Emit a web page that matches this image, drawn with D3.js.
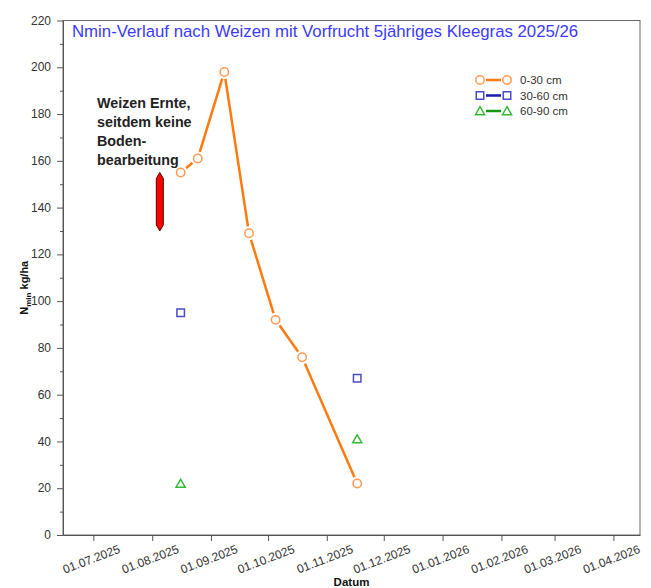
<!DOCTYPE html>
<html>
<head>
    <meta charset="utf-8">
    <title>Nmin-Verlauf</title>
    <style>
        body { margin: 0; background: #fff; }
        svg { display: block; font-family: "Liberation Sans", Arial, sans-serif; }
        .axis text { fill: #333; font-size: 12px; }
        .axis path, .axis line { stroke: #555; }
    </style>
</head>
<body>
    <div id="chart"></div>

    <script src="https://d3js.org/d3.v7.min.js"></script>
    <script>
        // Messwerte (Nmin kg/ha)
        const datesTop = ["2025-08-16", "2025-08-25", "2025-09-08", "2025-09-21", "2025-10-05", "2025-10-19", "2025-11-17"];
        const n0_30 = [155, 161, 198, 129, 92, 76, 22];
        const datesDeep = ["2025-08-16", "2025-11-17"];
        const n30_60 = [95, 67];
        const n60_90 = [22, 41];

        const tickDates = ["2025-07-01", "2025-08-01", "2025-09-01", "2025-10-01", "2025-11-01",
                           "2025-12-01", "2026-01-01", "2026-02-01", "2026-03-01", "2026-04-01"];
        const yTicks = [0, 20, 40, 60, 80, 100, 120, 140, 160, 180, 200, 220];
        const legendLabels = ["0-30 cm", "30-60 cm", "60-90 cm"];
        const noteLines = ["Weizen Ernte,", "seitdem keine", "Boden-", "bearbeitung"];
        const harvest = { date: "2025-08-05", from: 155, to: 130 };

        const parse = d3.timeParse("%Y-%m-%d");
        const fmt = d3.timeFormat("%d.%m.%Y");

        const width = 651, height = 588;
        const margin = { top: 20.5, right: 11, bottom: 53, left: 63 };

        const svg = d3.select("#chart").append("svg")
            .attr("width", width)
            .attr("height", height);

        const x = d3.scaleTime()
            .domain([parse("2025-06-15"), parse("2026-04-15")])
            .range([margin.left, width - margin.right]);
        const y = d3.scaleLinear()
            .domain([0, 220])
            .range([height - margin.bottom, margin.top]);

        // Rahmen
        svg.append("rect")
            .attr("x", margin.left).attr("y", margin.top)
            .attr("width", width - margin.right - margin.left)
            .attr("height", height - margin.bottom - margin.top)
            .attr("fill", "none").attr("stroke", "#666");

        // y-Achse, Haupt- und Nebenstriche
        svg.append("g").attr("class", "axis")
            .attr("transform", `translate(${margin.left},0)`)
            .call(d3.axisLeft(y).tickValues(d3.range(10, 220, 20)).tickSize(3).tickFormat("").tickSizeOuter(0));
        svg.append("g").attr("class", "axis")
            .attr("transform", `translate(${margin.left},0)`)
            .call(d3.axisLeft(y).tickValues(yTicks).tickSize(6).tickPadding(6).tickSizeOuter(0))
            .selectAll("text").attr("dy", "0.3em");

        // x-Achse
        const xa = svg.append("g").attr("class", "axis")
            .attr("transform", `translate(0,${height - margin.bottom})`)
            .call(d3.axisBottom(x).tickValues(tickDates.map(parse)).tickFormat(fmt).tickSize(6).tickSizeOuter(0));
        xa.selectAll("text")
            .attr("text-anchor", "middle")
            .attr("dy", 0)
            .attr("transform", "translate(-1,28) rotate(-21)")
            .attr("y", 0);

        // Achsentitel
        const yl = svg.append("text")
            .attr("transform", `translate(28,${(margin.top + height - margin.bottom) / 2 + 10}) rotate(-90)`)
            .attr("text-anchor", "middle")
            .attr("font-size", 11).attr("font-weight", "bold").attr("fill", "#111");
        yl.append("tspan").text("N");
        yl.append("tspan").attr("font-size", 8).attr("dy", 3).text("min");
        yl.append("tspan").attr("dy", -3).text(" kg/ha");

        svg.append("text")
            .attr("x", (margin.left + width - margin.right) / 2)
            .attr("y", 586)
            .attr("text-anchor", "middle")
            .attr("font-size", 11.5).attr("font-weight", "bold").attr("fill", "#111")
            .text("Datum");

        // Titel
        svg.append("text")
            .attr("x", 72).attr("y", 37)
            .attr("font-size", 16.8).attr("fill", "#3a3aff")
            .text("Nmin-Verlauf nach Weizen mit Vorfrucht 5jähriges Kleegras 2025/26");

        // 0-30 cm Linie
        const layer0 = datesTop.map((d, i) => ({ date: parse(d), v: n0_30[i] }));
        const orange = "#ff7a10", orangeLight = "#ff9a50";
        svg.append("path")
            .datum(layer0)
            .attr("fill", "none")
            .attr("stroke", orange)
            .attr("stroke-width", 2.5)
            .attr("d", d3.line().x(d => x(d.date)).y(d => y(d.v)));

        svg.selectAll(".gap")
            .data(layer0).enter().append("circle")
            .attr("cx", d => x(d.date)).attr("cy", d => y(d.v))
            .attr("r", 7).attr("fill", "#fff");
        svg.selectAll(".m0")
            .data(layer0).enter().append("circle")
            .attr("cx", d => x(d.date)).attr("cy", d => y(d.v))
            .attr("r", 4.2).attr("fill", "#fff")
            .attr("stroke", orangeLight).attr("stroke-width", 1.5);

        // tiefere Schichten
        const blue = "#4a4acc", green = "#33bb33";
        const square = d3.symbol().type(d3.symbolSquare).size(56);
        const tri = d3.symbol().type(d3.symbolTriangle).size(36);

        svg.selectAll(".m1")
            .data(datesDeep.map((d, i) => ({ date: parse(d), v: n30_60[i] })))
            .enter().append("path")
            .attr("d", square)
            .attr("transform", d => `translate(${x(d.date)},${y(d.v)})`)
            .attr("fill", "#fff").attr("stroke", blue).attr("stroke-width", 1.5);

        svg.selectAll(".m2")
            .data(datesDeep.map((d, i) => ({ date: parse(d), v: n60_90[i] })))
            .enter().append("path")
            .attr("d", tri)
            .attr("transform", d => `translate(${x(d.date)},${y(d.v) + 1})`)
            .attr("fill", "#fff").attr("stroke", green).attr("stroke-width", 1.5);

        // Legende
        const legStyle = [
            { stroke: orange, marker: orangeLight, sym: null },
            { stroke: "#1a1aaa", marker: blue, sym: square },
            { stroke: "#119911", marker: green, sym: tri }
        ];
        const leg = svg.append("g").attr("transform", "translate(480,80)");
        legendLabels.forEach((lab, i) => {
            const g = leg.append("g").attr("transform", `translate(0,${i * 15.5})`);
            const s = legStyle[i];
            g.append("line").attr("x1", 0).attr("x2", 27)
                .attr("stroke", s.stroke).attr("stroke-width", 2.5);
            [0, 27].forEach(cx => {
                g.append("rect").attr("x", cx - 6).attr("y", -6).attr("width", 12).attr("height", 12).attr("fill", "#fff");
                if (s.sym) {
                    g.append("path").attr("d", s.sym)
                        .attr("transform", `translate(${cx},${i === 2 ? 1 : 0})`)
                        .attr("fill", "#fff").attr("stroke", s.marker).attr("stroke-width", 1.5);
                } else {
                    g.append("circle").attr("cx", cx).attr("r", 4.2)
                        .attr("fill", "#fff").attr("stroke", s.marker).attr("stroke-width", 1.5);
                }
            });
            g.append("text").attr("x", 40).attr("y", 4)
                .attr("font-size", 11.5).attr("fill", "#333").text(lab);
        });

        // Hinweis Weizenernte
        const note = svg.append("text")
            .attr("font-size", 14.3).attr("font-weight", "bold").attr("fill", "#222");
        noteLines.forEach((t, i) => {
            note.append("tspan").attr("x", 97).attr("y", 108 + i * 19).text(t);
        });

        // roter Doppelpfeil
        const ax = x(parse(harvest.date)), y1 = y(harvest.from), y2 = y(harvest.to), w = 3.5;
        svg.append("path")
            .attr("d", `M${ax},${y1} L${ax + w},${y1 + 6} L${ax + w},${y2 - 6} L${ax},${y2} L${ax - w},${y2 - 6} L${ax - w},${y1 + 6} Z`)
            .attr("fill", "#ff0000").attr("stroke", "#550000").attr("stroke-width", 1);
    </script>
</body>
</html>
